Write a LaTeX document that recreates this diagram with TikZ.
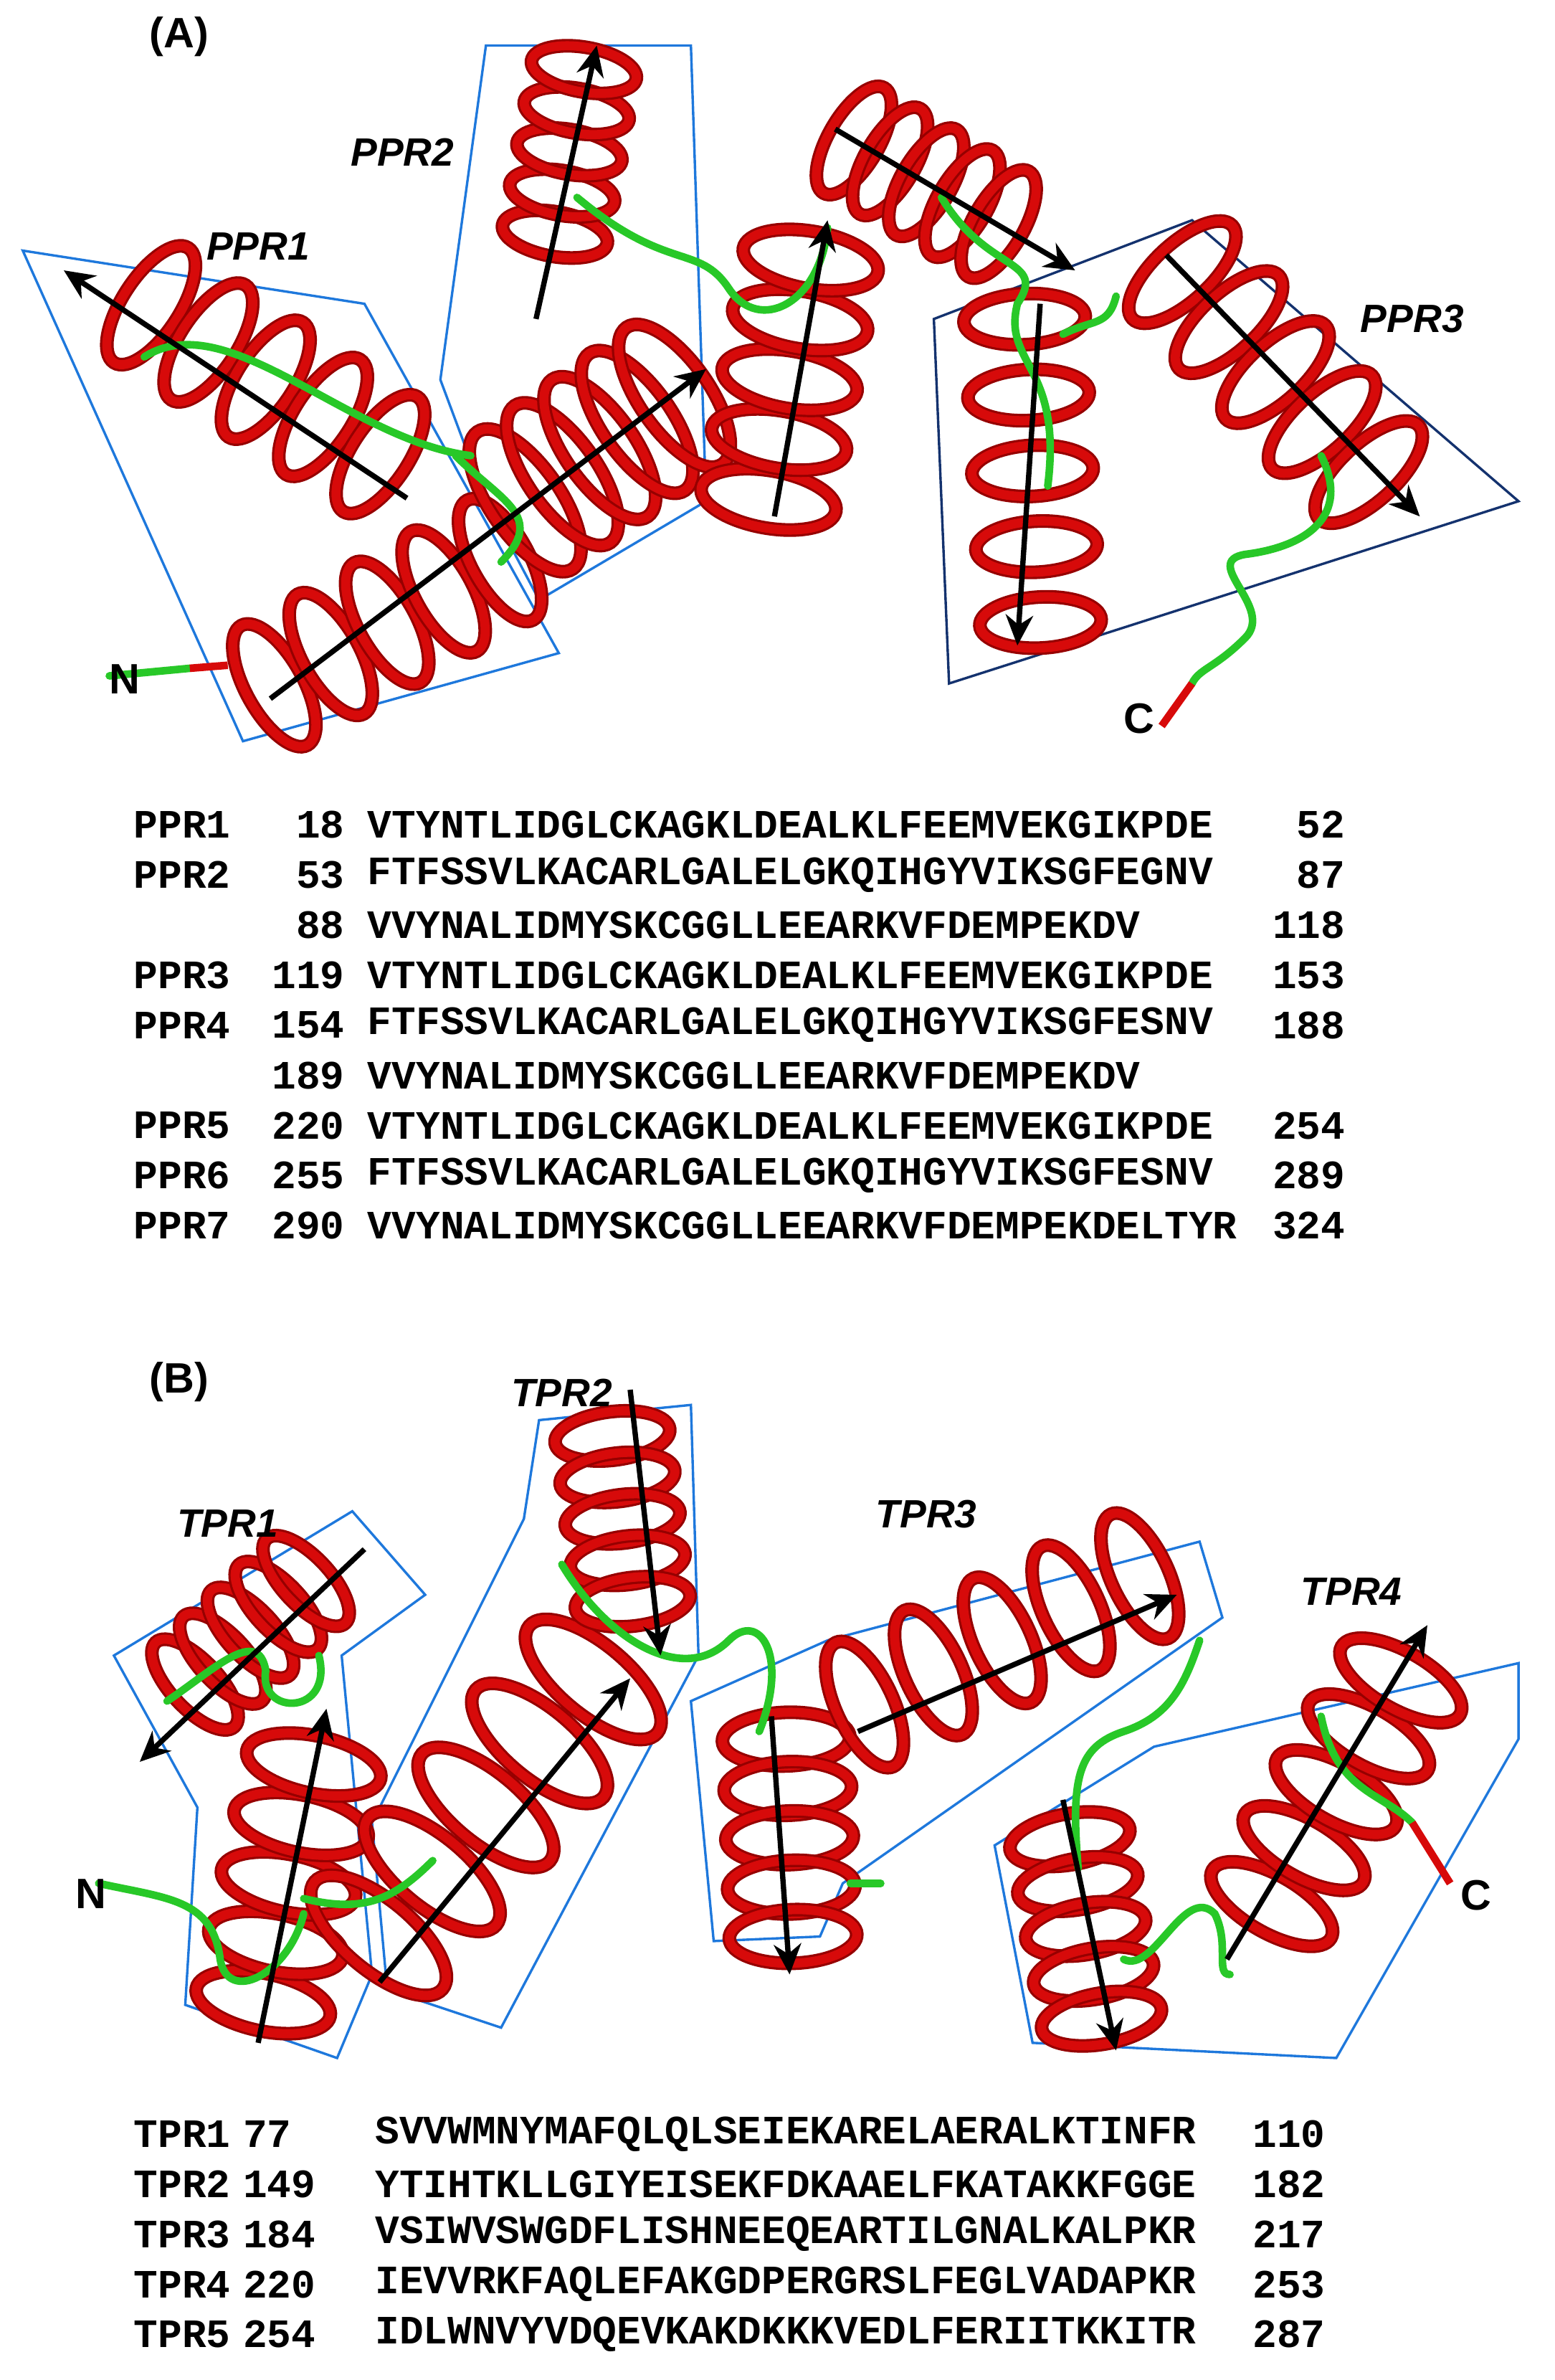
\documentclass[tikz,border=0pt]{standalone}
\usepackage{fontspec}
\setmainfont{Liberation Sans}
\newfontfamily\seqf{Liberation Mono}[BoldFont={Liberation Mono Bold}]
\usetikzlibrary{arrows.meta}
\definecolor{hred}{RGB}{215,10,10}
\definecolor{dred}{RGB}{150,0,0}
\definecolor{lgreen}{RGB}{40,200,40}
\definecolor{bbox}{RGB}{30,120,220}
\definecolor{nbox}{RGB}{20,50,110}
\tikzset{
 hel/.style={draw=dred,line width=9pt},
 helin/.style={draw=hred,line width=6pt},
 loop/.style={draw=lgreen,line width=5pt,line cap=round},
 box/.style={draw=bbox,line width=1.6pt},
 arr/.style={draw=black,line width=3.5pt,-{Stealth[length=20pt,width=18pt]}},
 lab/.style={font=\fontsize{26}{30}\selectfont\bfseries\itshape},
 big/.style={font=\fontsize{28}{32}\selectfont\bfseries},
 seq/.style={font=\seqf\bfseries\fontsize{26.5}{30}\selectfont,inner sep=0pt}
}
\newcommand\hlx[5]{%
\begin{scope}[shift={(#1,#2)},rotate=#3]
\foreach \k in {-2,...,2}{\draw[hel] (\k*#4/4,0) ellipse [x radius=#5*0.42, y radius=#5];
\draw[helin] (\k*#4/4,0) ellipse [x radius=#5*0.42, y radius=#5];}
\end{scope}}
\begin{document}
\begin{tikzpicture}[x=1pt,y=-1pt]
\useasboundingbox (0,0) rectangle (1024,1567);
% ---------- (A)
\node[big] (la) at (118,24) {(A)};
\draw[box] (15,165)--(240,200)--(368,430)--(160,488)--cycle;
\draw[box] (320,30)--(455,30)--(465,330)--(355,395)--(318,325)--(290,250)--cycle;
\draw[box,draw=nbox] (615,210)--(785,145)--(1000,330)--(625,450)--cycle;
\hlx{175}{250}{-33}{180}{45}
\hlx{255}{410}{29}{170}{45}
\hlx{395}{295}{35}{120}{55}
\hlx{375}{100}{80}{110}{35}
\hlx{520}{250}{80}{160}{45}
\hlx{610}{120}{-30}{110}{40}
\hlx{680}{310}{-87}{200}{40}
\hlx{840}{245}{-47}{180}{45}
\draw[loop] (72,445) -- (125,440);
\draw[loop] (95,235) .. controls (150,200) and (230,290) .. (310,300);
\draw[loop] (300,300) .. controls (330,330) and (360,340) .. (330,370);
\draw[loop] (380,130) .. controls (440,180) and (460,160) .. (480,190) .. controls (500,220) and (540,200) .. (545,150);
\draw[loop] (620,130) .. controls (650,180) and (690,170) .. (670,200) .. controls (660,240) and (700,240) .. (690,320);
\draw[loop] (700,220) .. controls (720,210) and (730,215) .. (735,195);
\draw[loop] (870,300) .. controls (890,340) and (860,360) .. (820,365) .. controls (790,370) and (840,400) .. (820,420) .. controls (800,440) and (790,440) .. (785,450);
\draw[draw=hred,line width=5pt] (785,450) -- (765,478);
\draw[draw=hred,line width=5pt] (125,440) -- (150,438);
\draw[arr] (268,328) -- (42,178);
\draw[arr] (178,460) -- (465,243);
\draw[arr] (353,210) -- (393,30);
\draw[arr] (510,340) -- (545,145);
\draw[arr] (550,85) -- (708,178);
\draw[arr] (685,200) -- (670,425);
\draw[arr] (768,168) -- (935,340);
\node[lab] (p1) at (170,162) {PPR1};
\node[lab] (p2) at (265,100) {PPR2};
\node[lab] (p3) at (930,210) {PPR3};
\node[big] (nA) at (82,447) {N};
\node[big] (cA) at (750,473) {C};
% sequences A
\foreach \n/\a/\s/\b [count=\i] in {PPR1/18/VTYNTLIDGLCKAGKLDEALKLFEEMVEKGIKPDE/52,
PPR2/53/FTFSSVLKACARLGALELGKQIHGYVIKSGFEGNV/87,
/88/VVYNALIDMYSKCGGLLEEARKVFDEMPEKDV/118,
PPR3/119/VTYNTLIDGLCKAGKLDEALKLFEEMVEKGIKPDE/153,
PPR4/154/FTFSSVLKACARLGALELGKQIHGYVIKSGFESNV/188,
/189/VVYNALIDMYSKCGGLLEEARKVFDEMPEKDV/,
PPR5/220/VTYNTLIDGLCKAGKLDEALKLFEEMVEKGIKPDE/254,
PPR6/255/FTFSSVLKACARLGALELGKQIHGYVIKSGFESNV/289,
PPR7/290/VVYNALIDMYSKCGGLLEEARKVFDEMPEKDELTYR/324}{
\node[seq,anchor=west] at (88,510+\i*33) {\n};
\node[seq,anchor=east] at (227,510+\i*33) {\a};
\node[seq,anchor=west] at (242,510+\i*33) {\s};
\node[seq,anchor=east] at (886,510+\i*33) {\b};}
% ---------- (B)
\node[big] (lb) at (118,910) {(B)};
\draw[box] (75,1090)--(232,995)--(280,1050)--(225,1090)--(245,1300)--(222,1355)--(122,1320)--(130,1190)--cycle;
\draw[box] (355,935)--(455,925)--(460,1090)--(330,1335)--(255,1310)--(245,1200)--(290,1110)--(345,1000)--cycle;
\draw[box] (455,1120)--(545,1080)--(790,1015)--(805,1065)--(555,1240)--(540,1275)--(470,1278)--cycle;
\draw[box] (655,1215)--(760,1150)--(1000,1095)--(1000,1145)--(880,1355)--(680,1345)--cycle;
\hlx{165}{1075}{43}{100}{38}
\hlx{190}{1240}{78}{160}{45}
\hlx{320}{1190}{50}{220}{55}
\hlx{410}{1000}{-83}{110}{38}
\hlx{520}{1210}{-88}{130}{42}
\hlx{660}{1080}{25}{200}{45}
\hlx{715}{1270}{-80}{120}{40}
\hlx{880}{1180}{60}{170}{45}
\draw[loop] (65,1240) .. controls (110,1250) and (140,1250) .. (145,1290) .. controls (150,1320) and (190,1300) .. (200,1260);
\draw[loop] (110,1120) .. controls (140,1100) and (170,1070) .. (175,1100) .. controls (170,1130) and (220,1130) .. (210,1090);
\draw[loop] (200,1250) .. controls (240,1260) and (260,1250) .. (285,1225);
\draw[loop] (370,1030) .. controls (400,1080) and (450,1110) .. (480,1080) .. controls (500,1060) and (520,1090) .. (500,1140);
\draw[loop] (560,1240) -- (580,1240);
\draw[loop] (790,1080) .. controls (780,1110) and (770,1130) .. (740,1140) .. controls (710,1150) and (705,1170) .. (710,1230);
\draw[loop] (740,1290) .. controls (760,1300) and (780,1240) .. (800,1260) .. controls (810,1280) and (800,1300) .. (810,1300);
\draw[loop] (870,1130) .. controls (880,1180) and (910,1180) .. (930,1200);
\draw[draw=hred,line width=5pt] (930,1200) -- (955,1240);
\draw[arr] (240,1020) -- (92,1160);
\draw[arr] (170,1345) -- (215,1125);
\draw[arr] (250,1305) -- (415,1105);
\draw[arr] (415,915) -- (435,1090);
\draw[arr] (508,1130) -- (520,1300);
\draw[arr] (565,1140) -- (775,1050);
\draw[arr] (700,1185) -- (735,1350);
\draw[arr] (808,1290) -- (940,1070);
\node[lab] (t1) at (150,1003) {TPR1};
\node[lab] (t2) at (370,917) {TPR2};
\node[lab] (t3) at (610,997) {TPR3};
\node[lab] (t4) at (890,1048) {TPR4};
\node[big] (nB) at (60,1247) {N};
\node[big] (cB) at (972,1248) {C};
\foreach \n/\a/\s/\b [count=\i] in {TPR1/77/SVVWMNYMAFQLQLSEIEKARELAERALKTINFR/110,
TPR2/149/YTIHTKLLGIYEISEKFDKAAELFKATAKKFGGE/182,
TPR3/184/VSIWVSWGDFLISHNEEQEARTILGNALKALPKR/217,
TPR4/220/IEVVRKFAQLEFAKGDPERGRSLFEGLVADAPKR/253,
TPR5/254/IDLWNVYVDQEVKAKDKKKVEDLFERIITKKITR/287}{
\node[seq,anchor=west] at (88,1372+\i*33) {\n};
\node[seq,anchor=west] at (160,1372+\i*33) {\a};
\node[seq,anchor=west] at (247,1372+\i*33) {\s};
\node[seq,anchor=east] at (873,1372+\i*33) {\b};}
\end{tikzpicture}
\end{document}
